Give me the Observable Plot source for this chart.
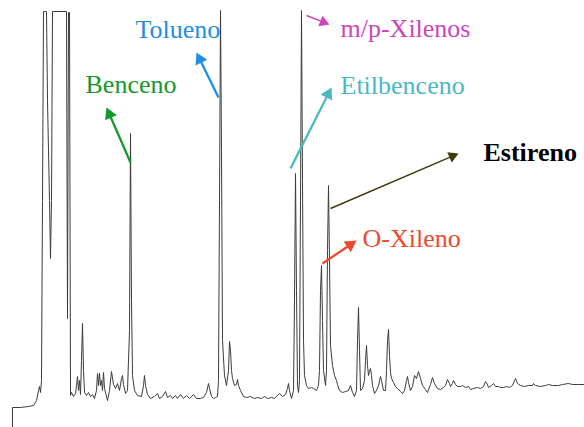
<!DOCTYPE html>
<html><head><meta charset="utf-8">
<script src="https://cdn.jsdelivr.net/npm/d3@7"></script>
<script src="https://cdn.jsdelivr.net/npm/@observablehq/plot@0.6"></script>
<style>body{margin:0;background:#fff}</style>
</head><body><div id="chart"></div>
<script>
// Chromatogram trace (scan index, detector signal)
const scan = [12,12,20,28,33,36,38,39,40,41,42,43,46,47,49,50,51,52,66,67,68,69,70,71,73,75,76,77,78,79,80,81,82,83,84,86,88,90,92,94,96,97,98,99,100,101,102,103,104,107,109,111,113,115,117,119,121,122,123,125,127,129,130,131,132,134,137,141,143,144,145,147,150,154,157,159,162,165,167,170,172,175,177,180,183,186,189,193,196,200,203,206,208,209,211,213,215,217,218,219,220,221,222,224,226,228,229,230,231,232,234,236,237,238,240,243,246,250,254,257,261,264,267,271,274,277,279,282,285,287,288,289,291,293,294,295,296,297,298,299,300,301,302,303,304,306,308,311,313,316,318,319,320,321,322,323,325,326,327,328,329,330,332,334,336,337,339,342,345,348,350,352,354,356,357,358,359,360,362,364,365,366,367,368,369,370,371,372,374,376,378,380,381,383,385,386,387,388,389,390,391,393,395,397,400,402,404,406,407,408,410,412,414,416,418,420,422,425,427,430,432,434,437,440,443,445,447,449,450,452,453,455,457,460,462,465,468,470,473,477,480,483,485,486,488,491,493,495,498,500,503,506,509,512,514,515,517,520,524,528,532,533,535,540,545,548,552,558,562,568,572,578,584];
const signal = [0,20,20,21,22,27,37,41,35,47,227,416,416,327,227,169,227,416,416,109,415,415,32,35,31,34,42,51,37,47,33,67,104,57,35,32,35,31,33,29,37,54,42,54,42,47,37,55,39,27,37,56,43,39,44,37,49,52,43,34,37,97,294,127,52,37,32,31,42,52,42,33,29,31,34,29,31,36,30,32,29,32,29,33,29,32,29,33,29,29,30,35,44,39,31,29,30,31,47,227,417,277,87,52,42,57,86,77,57,49,42,43,48,42,37,31,30,31,29,30,29,31,29,30,29,32,34,31,33,39,44,37,29,37,127,254,137,42,35,47,227,417,247,87,52,42,39,40,39,37,42,57,137,162,107,57,42,57,177,242,167,82,62,52,47,43,37,35,36,37,42,35,31,37,87,120,77,37,39,47,67,82,62,52,57,59,52,42,34,37,42,51,47,37,37,57,87,98,72,55,49,45,41,39,36,34,37,47,51,45,37,41,52,49,56,49,42,38,35,43,50,44,39,38,40,42,48,44,41,44,47,43,41,41,42,40,41,38,39,40,39,41,46,45,40,42,44,41,41,40,40,41,40,42,47,49,44,42,41,42,42,44,42,41,42,43,42,42,43,44,43,43,43];

// Identified compounds
const compounds = ["Benceno", "Tolueno", "Etilbenceno", "m/p-Xilenos", "O-Xileno", "Estireno"];
const peakScan   = [130, 220, 295, 301, 321, 328];

// Annotation layout (data units)
const layout = {
  labelScan:   [85, 135, 340, 340, 362, 483],
  labelSignal: [343, 398, 342, 399, 189, 275],
  fromScan:    [130, 218, 290, 306, 322, 330],
  fromSignal:  [265, 330, 259, 412, 164, 219],
  toScan:      [106, 196, 331, 329, 356, 458],
  toSignal:    [320, 375, 340, 403, 187, 274],
  color:  ["#15992c", "#1e8ee6", "#4cb8c2", "#cc45bd", "#f04a2e", "#000000"],
  arrowColor: ["#15992c", "#1e8ee6", "#4cb8c2", "#cc45bd", "#f04a2e", "#3e3b08"],
  weight: ["normal","normal","normal","normal","normal","bold"],
  shaft: [2.3, 2.3, 2.3, 1.4, 2.3, 1.4],
  headR: [4.8, 4.8, 4.8, 4.2, 4.8, 4.2]
};

const trace = scan.map((s, i) => ({scan: s, signal: signal[i]}));
const notes = compounds.map((name, i) => {
  const dx = layout.toScan[i] - layout.fromScan[i];
  const dy = layout.toSignal[i] - layout.fromSignal[i];
  const L = Math.hypot(dx, dy);
  const r = layout.headR[i];
  const half = Math.sqrt(Math.PI * r * r / (3 * Math.sqrt(3)));
  const back = 2 * half;
  return {
    name, peak: peakScan[i],
    lx: layout.labelScan[i], ly: layout.labelSignal[i],
    x1: layout.fromScan[i], y1: layout.fromSignal[i],
    cx: layout.toScan[i] - dx / L * back, cy: layout.toSignal[i] - dy / L * back,
    rot: Math.atan2(dx, dy) * 180 / Math.PI,
    color: layout.color[i], arrowColor: layout.arrowColor[i],
    weight: layout.weight[i], shaft: layout.shaft[i], r
  };
});

const marks = [
  Plot.line(trace, {x: "scan", y: "signal", stroke: "#3c3c3c", strokeWidth: 1, curve: "linear"})
];
notes.forEach(n => {
  marks.push(Plot.link([n], {x1: "x1", y1: "y1", x2: "cx", y2: "cy", stroke: n.arrowColor, strokeWidth: n.shaft}));
  marks.push(Plot.dot([n], {x: "cx", y: "cy", symbol: "triangle", r: n.r, rotate: "rot", fill: n.arrowColor, stroke: "none"}));
  marks.push(Plot.text([n], {x: "lx", y: "ly", text: "name", fill: n.color, textAnchor: "start",
    fontFamily: "'Liberation Serif', 'Times New Roman', Times, serif", fontSize: 26, fontWeight: n.weight}));
});

const chart = Plot.plot({
  width: 584, height: 427,
  marginTop: 0, marginBottom: 0, marginLeft: 0, marginRight: 0,
  x: {domain: [0, 584], axis: null},
  y: {domain: [0, 427], axis: null},
  style: {background: "#fff"},
  marks
});
document.getElementById("chart").appendChild(chart);
</script>
</body></html>
